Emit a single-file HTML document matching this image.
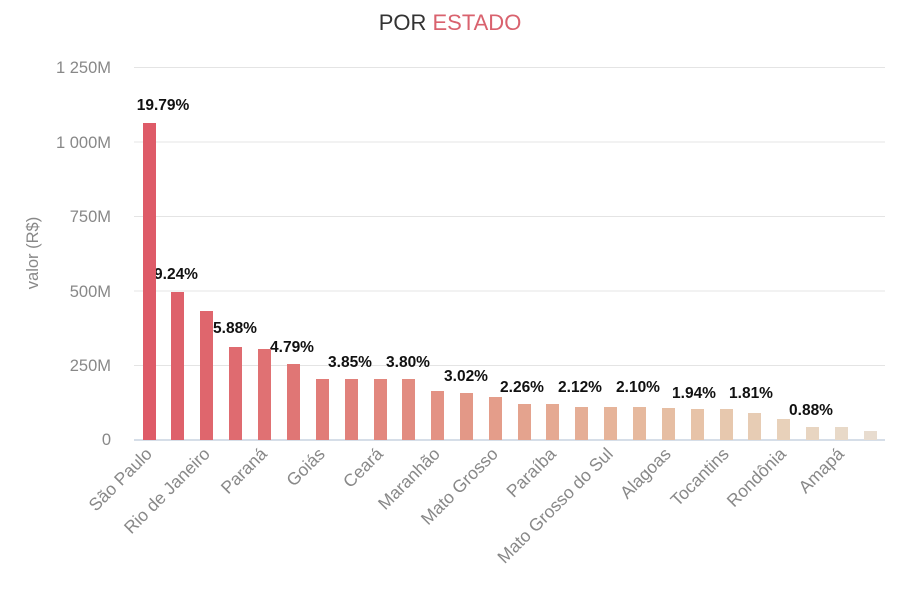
<!DOCTYPE html>
<html><head><meta charset="utf-8"><style>
html,body{margin:0;padding:0;background:#fff;}
svg text{font-family:"Liberation Sans",sans-serif;}
</style></head><body>
<svg width="900" height="600" xmlns="http://www.w3.org/2000/svg">
<text x="450" y="30" text-anchor="middle" font-size="22" fill="#333">POR <tspan fill="#d9626e">ESTADO</tspan></text>
<g stroke="#e4e4e4" stroke-width="1">
<line x1="134" x2="885" y1="67.5" y2="67.5"/>
<line x1="134" x2="885" y1="142" y2="142"/>
<line x1="134" x2="885" y1="216.5" y2="216.5"/>
<line x1="134" x2="885" y1="291" y2="291"/>
<line x1="134" x2="885" y1="365.5" y2="365.5"/>
</g>
<line x1="134" x2="885" y1="440" y2="440" stroke="#c8d3e0" stroke-width="1.5"/>
<g font-size="16.5" fill="#888" text-anchor="end">
<text x="111" y="73">1 250M</text>
<text x="111" y="148">1 000M</text>
<text x="111" y="222">750M</text>
<text x="111" y="297">500M</text>
<text x="111" y="371">250M</text>
<text x="111" y="445">0</text>
</g>
<text transform="translate(38,253) rotate(-90)" text-anchor="middle" font-size="16.5" fill="#888">valor (R$)</text>
<g font-size="15.5" font-weight="bold" fill="#111" text-anchor="middle">
<text x="163" y="110">19.79%</text>
<text x="176" y="279">9.24%</text>
<text x="235" y="333">5.88%</text>
<text x="292" y="352">4.79%</text>
<text x="350" y="367">3.85%</text>
<text x="408" y="367">3.80%</text>
<text x="466" y="381">3.02%</text>
<text x="522" y="392">2.26%</text>
<text x="580" y="392">2.12%</text>
<text x="638" y="392">2.10%</text>
<text x="694" y="398">1.94%</text>
<text x="751" y="398">1.81%</text>
<text x="811" y="415">0.88%</text>
</g>
<g font-size="17.5" fill="#888" text-anchor="end">
<text transform="translate(153,455) rotate(-45)">São Paulo</text>
<text transform="translate(211,455) rotate(-45)">Rio de Janeiro</text>
<text transform="translate(268,455) rotate(-45)">Paraná</text>
<text transform="translate(326,455) rotate(-45)">Goiás</text>
<text transform="translate(384,455) rotate(-45)">Ceará</text>
<text transform="translate(441,455) rotate(-45)">Maranhão</text>
<text transform="translate(499,455) rotate(-45)">Mato Grosso</text>
<text transform="translate(557,455) rotate(-45)">Paraíba</text>
<text transform="translate(614,455) rotate(-45)">Mato Grosso do Sul</text>
<text transform="translate(672,455) rotate(-45)">Alagoas</text>
<text transform="translate(730,455) rotate(-45)">Tocantins</text>
<text transform="translate(787,455) rotate(-45)">Rondônia</text>
<text transform="translate(845,455) rotate(-45)">Amapá</text>
</g>
<g>
<rect x="143" y="123" width="13" height="317" fill="#de5b68"/>
<rect x="171" y="292" width="13" height="148" fill="#de616b"/>
<rect x="200" y="311" width="13" height="129" fill="#df666d"/>
<rect x="229" y="347" width="13" height="93" fill="#df6b70"/>
<rect x="258" y="349" width="13" height="91" fill="#e07173"/>
<rect x="287" y="364" width="13" height="76" fill="#e07675"/>
<rect x="316" y="379" width="13" height="61" fill="#e17c78"/>
<rect x="345" y="379" width="13" height="61" fill="#e1817b"/>
<rect x="374" y="379" width="13" height="61" fill="#e2877e"/>
<rect x="402" y="379" width="13" height="61" fill="#e28c81"/>
<rect x="431" y="391" width="13" height="49" fill="#e39284"/>
<rect x="460" y="393" width="13" height="47" fill="#e39887"/>
<rect x="489" y="397" width="13" height="43" fill="#e49d8a"/>
<rect x="518" y="404" width="13" height="36" fill="#e4a38e"/>
<rect x="546" y="404" width="13" height="36" fill="#e5a992"/>
<rect x="575" y="407" width="13" height="33" fill="#e5ae96"/>
<rect x="604" y="407" width="13" height="33" fill="#e6b49a"/>
<rect x="633" y="407" width="13" height="33" fill="#e6b99e"/>
<rect x="662" y="408" width="13" height="32" fill="#e6bea3"/>
<rect x="691" y="409" width="13" height="31" fill="#e7c3a8"/>
<rect x="720" y="409" width="13" height="31" fill="#e7c8ae"/>
<rect x="748" y="413" width="13" height="27" fill="#e7ccb4"/>
<rect x="777" y="419" width="13" height="21" fill="#e8d1ba"/>
<rect x="806" y="427" width="13" height="13" fill="#e8d5c1"/>
<rect x="835" y="427" width="13" height="13" fill="#e8d9c8"/>
<rect x="864" y="431" width="13" height="9" fill="#e8dccf"/>
</g>
</svg>
</body></html>
